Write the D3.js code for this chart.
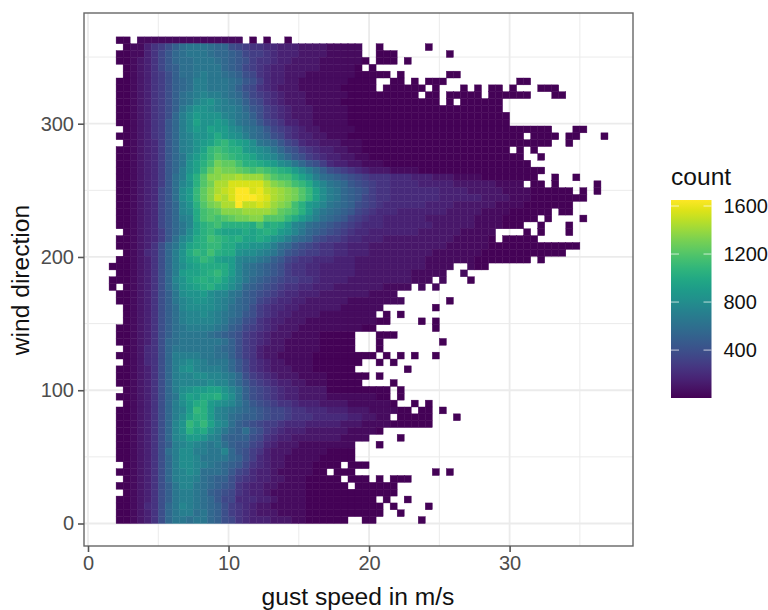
<!DOCTYPE html>
<html>
<head>
<meta charset="utf-8">
<script src="https://cdn.jsdelivr.net/npm/d3@7"></script>
<style>
  body { margin: 0; background: #fff; }
  text { font-family: "Liberation Sans", Arial, sans-serif; }
</style>
</head>
<body>
<div class="canvas"></div>
<script>
// tick labels
const xTicks = [0, 10, 20, 30];
const yTicks = [0, 100, 200, 300];
const xMinor = [5, 15, 25, 35];
const yMinor = [50, 150, 250, 350];
const countTicks = [400, 800, 1200, 1600];

// bins: 0.5 m/s wide from 1.5, 360/70 degrees high from 0
const speedStart = 1.5;
const speedBin = 0.5;
const dirBin = 360 / 70;
const countPerLevel = 50;
const lowestCount = 10;

// which speed columns hold a cell, top row first
const filledCols = [
  "1-2,4-18,20,22,25",
  "2-35,38,45",
  "1-35,38-40,48",
  "1-36,38-40,42",
  "2-35,37",
  "2-39,41,48-49",
  "1-37,40-41,43,45-47,58-59",
  "1-37,39-44,46,50,52,54-55,57,61-63",
  "1-43,45-46,48-52,54-59,63-64",
  "1-46,48,50-55",
  "1-55",
  "1-56",
  "1-56",
  "2-62,66-67",
  "1-58,60-63,65-66,70",
  "2-62,65",
  "1-56,58,60",
  "1-58,61",
  "1-59",
  "1-61",
  "1-60,63,66",
  "1-58,60-61,63,69",
  "1-65,67,69",
  "1-67",
  "1-65",
  "1-62,64-65",
  "1-60,62,67",
  "1-58,61,65",
  "2-54,59,61,65",
  "1-54,56-60",
  "1-66",
  "2-64",
  "1-59,61",
  "0-48,51-53",
  "1-47,50",
  "0-45,47,51",
  "0,2-42,44,46",
  "1-40",
  "1-41,48",
  "2-38,46",
  "2-37,39,41",
  "2-39,44,46",
  "1-37,46",
  "1-34,38-40",
  "1-34,38,47",
  "2-34,38",
  "1-37,39,41,43,46",
  "2-35,38,40",
  "1-34,42",
  "1-36,38",
  "1-35,40",
  "2-39,41",
  "1-39,41",
  "2-40,43,45",
  "1-42,44-45,47",
  "1-39,41-45,49",
  "1-45",
  "1-38",
  "1-36,41",
  "1-34,38",
  "1-34",
  "1-34",
  "2-32,34-36",
  "1-30,32-34,46,48",
  "2-32,34-36,38,40-42",
  "1-33,35-40",
  "2-40",
  "1-37,39,42",
  "1-38,40,45",
  "1-38,41",
  "1-33,36-37,44"
];

// count levels, base 36, one char per column from column 1.
// top row first, anything past the end of a string is the lowest level
const levelRows = [
  "0011111111 1111111100",
  "00113568ac dddcbb8765 5443332222 1111110000",
  "00113579bc dddcbba976 6543332222 1111100000",
  "00123579bc cdddcba986 5543322221 1111100000",
  "00123579ac cddddba976 5433222221 1111000000",
  "00123568ac cdeddcba87 5433222111 1111000000",
  "00123568ab ceedddcb98 6433221111 1110000000",
  "00123568ab ceedddca87 5432221111 1100000000",
  "00123568ac defeedcb97 6543222111 1110000000",
  "00123568ac dfghfedca8 7543222111 1100000000",
  "00123568ad fhhgfeedb9 8654322211 1110000000",
  "00123568be gihhhfedca 8654322211 1110000000",
  "00123569be gjhhihfdcb 9765332211 1110000000",
  "00123569be gihjiigfdc b976543221 1111000000",
  "00123569be fhhikihgec ba87543322 1110000000",
  "00123469be fhijlmkjig dcb9764332 2211100000",
  "00123469be fhjmnmllih gfdb986543 3221100000",
  "00123469bd gikmonmlkj hgfdb98654 3322110000",
  "00123469bd hjlnqppnll kjigfdb986 4332211100",
  "00123469be hjmprqqpon onmlkigeca 8765432221 1110000000",
  "00123469ce ilorrsstss sqonnljhec ba98765554 4433322211 1100000000",
  "00123469cf hloqttvvvv vtrqpnmkhf dcb9876554 4443333322 2222111110",
  "00123479cg imprtuvxxv wutsrqomjg edba986554 4444443333 2222211110",
  "00123479cg imprutvxxx wvtsrqomjg edba976554 4444443333 3322221110",
  "00123479bf hloqrttxuu vusrqnlihf dcba876544 4444333322 2222111100",
  "00123479bf gknoprrrss ssrponlifd cba9765444 3333333222 2211110000",
  "00123479be fknonopqqr rooomkigec ba97654433 3333222222 2111100000",
  "00123479bd fjlmnllllk nklkifecba 9876544433 3333322222 2111100000",
  "00123469bd gjlmkjjjkj klkihfdba9 8765443333 3332222221 1111000000",
  "00123469cf hklnmlkljj kjhgecba87 6654433322 2222222211 1110000000",
  "0012358bdg jklmmkkiih hgecb98765 5443332222 2222222111 1110000000",
  "0012458beh kmlnlkkhgg fedb987665 5443332222 2222211111 1100000000",
  "0012358beh jkmljiifee dca9765544 4333222222 2222111111 1000000000",
  "0012358beg ijkkkkifdc ba98655443 3333222222 2222111111 1000000000",
  "0012358bei jjklmkifdc ba98655443 3333222222 2211111111",
  "0012358bfh jklkljhfdb a987665543 3332222222 2211111111",
  "0012358beh ijkljigeba 9876554433 3222222211 1111111110",
  "0012358adg hhigffdca9 8765443332 2222221111 1110000000",
  "0012358adf ghhgfedba9 7654433222 2221111111 1100000000",
  "0012358acf ggggfecba8 6544332222 2211111111",
  "0012358ace ffgfedcb98 6543322221 1111111000",
  "0012358ace ffffedba87 5433222111 1111111000",
  "0012358acd eeeedca976 5432221111 1111100000",
  "0012358acd dddcba9865 4322211110",
  "0012358bcd dddddca865 4322111110",
  "0012458bdd ddddcba865 3222111110",
  "0012458bee eeddcca865 3221111100",
  "0012458bef gfedddb975 4322111100",
  "0012358beg hfeeedb975 4322211100",
  "0012358bef fggffedb86 5432221111",
  "0012358bef fffgffdb97 6543322111",
  "0012358beg hiijjhfda8 7654332222",
  "0012358bdh jikkligda8 7654332222 1111111000",
  "0012358beg iklihgfdb9 8765543332 2221111110",
  "0012358bef imlifedcba 9877655444 3332221111",
  "0012358beg jllifecbaa 9877655544 4443322111",
  "0012358bfh mkmjgfca98 7665444333 3322211110",
  "0012358bfh ljkhfdbac9 8654333222 2221111000",
  "0012358bfg iihfebaaa8 7543322222 2211111000",
  "0012358aef gfedeca997 6432221111 1111",
  "0012358ceg geeddfb986 5322211111",
  "0012358beg gfddddba86 4322111110",
  "0012358beg gfedcba975 4322111100",
  "0012358bef gfcccb9764 3321111100",
  "0012358bef fecbaa8654 3322111000",
  "0012358adf fdcba98543 3221111000",
  "0012358ade edca987543 3211111000",
  "0012358ade edcb977444 3321111000",
  "0012458bdf edcba86543 2211111000",
  "0012358bde ecdba86543 2221111000",
  "0012358bdd cddba87543 3322211000"
];

const dims = {width: 768, height: 610};
const panel = {left: 84, right: 633, top: 13, bottom: 546};
const bar = {left: 671, width: 40.5, top: 200, bottom: 398};

const svg = d3.select(".canvas")
  .append("svg")
  .attr("width", dims.width)
  .attr("height", dims.height)
  .style("display", "block");

const x = d3.scaleLinear().domain([0, 30]).range([88, 509.6]);
const y = d3.scaleLinear().domain([0, 300]).range([523.5, 123.7]);
const countMax = 1650;
const color = d3.scaleSequential(d3.interpolateViridis).domain([1, countMax]);

// unpack the rows into one record per cell
const parseCols = text => text.split(",").flatMap(part => {
  const [a, b] = part.split("-").map(Number);
  return b === undefined ? [a] : d3.range(a, b + 1);
});

const cells = [];
filledCols.forEach((cols, row) => {
  const levels = levelRows[row].replace(/ /g, "");
  parseCols(cols).forEach(col => {
    const ch = col > 0 ? levels[col - 1] : undefined;
    const level = ch === undefined ? 0 : parseInt(ch, 36);
    cells.push({
      speed: speedStart + col * speedBin,
      dir: (filledCols.length - 1 - row) * dirBin,
      count: Math.max(level * countPerLevel, lowestCount)
    });
  });
});

//panel grid
const grid = svg.append("g").attr("fill", "none").attr("stroke", "#ebebeb");
const vLine = (v, w) => grid.append("line")
  .attr("x1", x(v)).attr("x2", x(v))
  .attr("y1", panel.top).attr("y2", panel.bottom)
  .attr("stroke-width", w);
const hLine = (v, w) => grid.append("line")
  .attr("x1", panel.left).attr("x2", panel.right)
  .attr("y1", y(v)).attr("y2", y(v))
  .attr("stroke-width", w);
xMinor.forEach(v => vLine(v, 1));
yMinor.forEach(v => hLine(v, 1));
xTicks.forEach(v => vLine(v, 1.8));
yTicks.forEach(v => hLine(v, 1.8));

//heatmap cells, thin stroke closes the seams between them
svg.append("g").selectAll("rect")
  .data(cells)
  .enter()
  .append("rect")
  .attr("x", d => x(d.speed))
  .attr("y", d => y(d.dir + dirBin))
  .attr("width", x(speedBin) - x(0))
  .attr("height", y(0) - y(dirBin))
  .attr("fill", d => color(d.count))
  .attr("stroke", d => color(d.count))
  .attr("stroke-width", 0.4);

svg.append("rect")
  .attr("x", panel.left).attr("y", panel.top)
  .attr("width", panel.right - panel.left)
  .attr("height", panel.bottom - panel.top)
  .attr("fill", "none")
  .attr("stroke", "#666")
  .attr("stroke-width", 1.4);

//axes
const styleAxis = g => {
  g.select(".domain").remove();
  g.selectAll("line").attr("stroke", "#555").attr("stroke-width", 1.6);
  g.selectAll("text").attr("fill", "#4d4d4d").style("font-size", "20px");
};

svg.append("g")
  .attr("transform", `translate(0, ${panel.bottom})`)
  .call(d3.axisBottom(x).tickValues(xTicks).tickFormat(d3.format("d")).tickSize(6).tickPadding(4))
  .call(styleAxis);

svg.append("g")
  .attr("transform", `translate(${panel.left}, 0)`)
  .call(d3.axisLeft(y).tickValues(yTicks).tickFormat(d3.format("d")).tickSize(6).tickPadding(4))
  .call(styleAxis);

svg.append("text")
  .attr("x", 358).attr("y", 605)
  .attr("text-anchor", "middle")
  .style("font-size", "24.6px")
  .attr("fill", "#111")
  .text("gust speed in m/s");

svg.append("text")
  .attr("transform", "translate(29, 280) rotate(-90)")
  .attr("text-anchor", "middle")
  .style("font-size", "24.6px")
  .attr("fill", "#111")
  .text("wind direction");

//legend
const legendY = d3.scaleLinear().domain([1, countMax]).range([bar.bottom, bar.top]);
const gradient = svg.append("defs").append("linearGradient")
  .attr("id", "countBar")
  .attr("x1", 0).attr("x2", 0).attr("y1", 1).attr("y2", 0);
gradient.selectAll("stop")
  .data(d3.range(0, 1.01, 0.05))
  .enter()
  .append("stop")
  .attr("offset", d => d)
  .attr("stop-color", d => d3.interpolateViridis(d));

svg.append("rect")
  .attr("x", bar.left).attr("y", bar.top)
  .attr("width", bar.width)
  .attr("height", bar.bottom - bar.top)
  .attr("fill", "url(#countBar)");

const legendTicks = svg.append("g").attr("stroke", "#fff").attr("stroke-opacity", 0.7);
countTicks.forEach(v => {
  legendTicks.append("line")
    .attr("x1", bar.left).attr("x2", bar.left + 8)
    .attr("y1", legendY(v)).attr("y2", legendY(v));
  legendTicks.append("line")
    .attr("x1", bar.left + bar.width - 8).attr("x2", bar.left + bar.width)
    .attr("y1", legendY(v)).attr("y2", legendY(v));
});

svg.append("g")
  .attr("transform", `translate(${bar.left + bar.width}, 0)`)
  .call(d3.axisRight(legendY).tickValues(countTicks).tickFormat(d3.format("d")).tickSize(0).tickPadding(12))
  .call(g => g.select(".domain").remove())
  .call(g => g.selectAll("text").attr("fill", "#111").style("font-size", "20px"));

svg.append("text")
  .attr("x", 671).attr("y", 185)
  .style("font-size", "24.6px")
  .attr("fill", "#111")
  .text("count");
</script>
</body>
</html>
